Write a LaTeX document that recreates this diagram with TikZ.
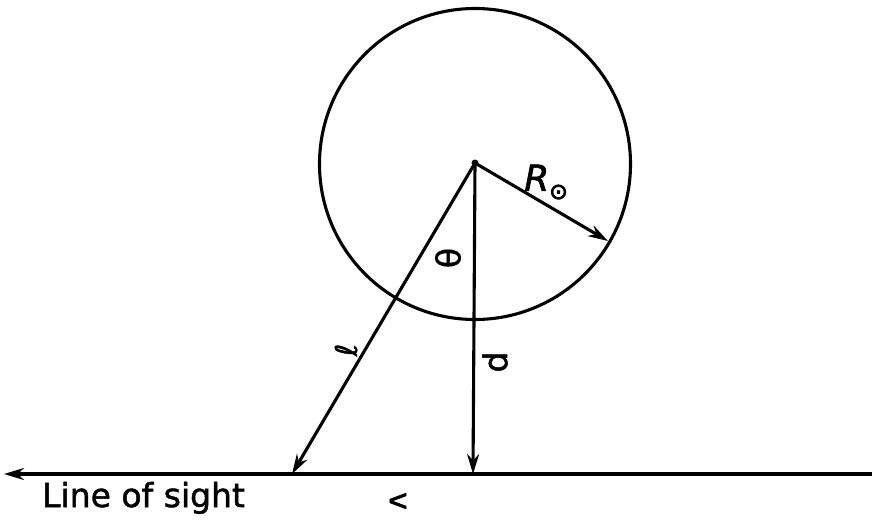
\documentclass[tikz,border=0pt]{standalone}
\usepackage{fontspec}
\setmainfont{DejaVu Sans}
\newfontfamily\lf{DejaVu Sans}[FakeBold=1.5]
\newfontfamily\hf{DejaVu Sans}[FakeBold=4]
\usetikzlibrary{arrows.meta}
\begin{document}
\begin{tikzpicture}[x=1pt,y=1pt,
  ln/.style={line width=3.1pt,line cap=round},
  arr/.style={ln,-{Stealth[length=20pt,width=12pt]}},
  lbl/.style={inner sep=0pt,font=\lf\fontsize{33}{36}\selectfont}]
\path[use as bounding box,fill=white] (0,0) rectangle (872,-520);
\coordinate (O) at (475,-163);
\node[draw,circle,line width=3.1pt,minimum size=311pt,inner sep=0pt] (C) at (475,-164) {};
\coordinate (Rend) at (608,-241);
\coordinate (Lend) at (292,-474);
\coordinate (Pend) at (473,-474);
\coordinate (LSleft) at (4,-474);
\coordinate (LSright) at (872,-474);
\fill (O) circle (3.5pt);
\draw[arr] (O) -- (Rend);
\draw[arr] (O) -- (Lend);
\draw[arr] (O) -- (Pend);
\draw[arr] (LSright) -- (LSleft);
\node[lbl,font=\lf\fontsize{36}{40}\selectfont] (Rlab) at (546,-182) {\itshape R\raisebox{-8pt}{\hf\fontsize{22}{22}\selectfont ⊙}};
\node[lbl,rotate=-90] (th) at (448,-258) {θ};
\node[lbl,rotate=90,font=\lf\fontsize{30}{32}\selectfont] (ell) at (346,-350) {ℓ};
\node[lbl,rotate=-90] (pl) at (495,-362) {p};
\node[lbl,rotate=-90,font=\lf\fontsize{30}{32}\selectfont] (yl) at (398,-501) {v};
\node[lbl,anchor=base west] (los) at (42,-507) {Line of sight};
\end{tikzpicture}
\end{document}
